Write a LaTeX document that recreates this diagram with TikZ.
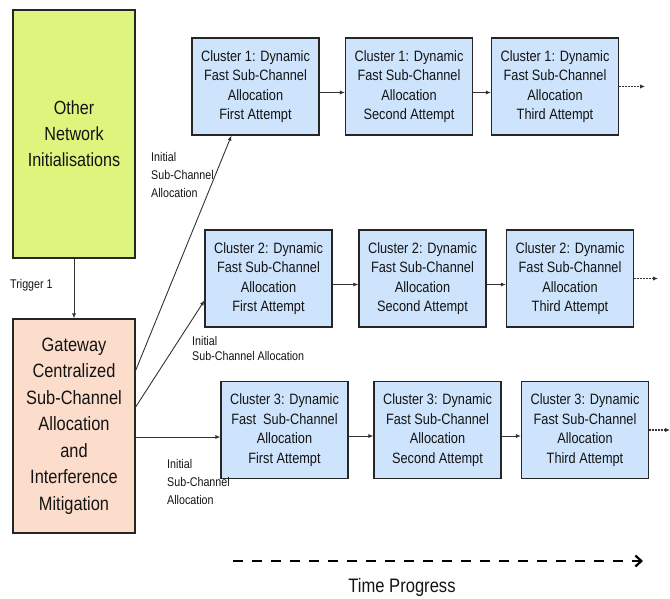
\documentclass[tikz,border=0pt]{standalone}
\usepackage{fontspec}
\setmainfont{Liberation Sans}[FakeStretch=0.85]
\usetikzlibrary{arrows.meta}
\definecolor{grn}{RGB}{221,244,125}
\definecolor{org}{RGB}{252,221,203}
\definecolor{blu}{RGB}{206,228,252}
\definecolor{txt}{RGB}{20,20,20}
\tikzset{
  bigbox/.style={draw=black!85, line width=1.1pt, minimum width=122pt, inner sep=0pt, align=center, text=txt},
  cbox/.style={draw=black!85, line width=1.1pt, fill=blu, minimum width=127pt, minimum height=97pt, inner sep=0pt, align=center, text=txt,
    font=\fontsize{15}{19.5}\selectfont},
  lbl/.style={inner sep=0pt, align=left, anchor=west, text=txt, font=\fontsize{12.6}{18}\selectfont},
  conn/.style={draw=black!80, line width=0.9pt, -{Latex[length=5pt,width=4pt]}},
  dots/.style={draw=black!80, line width=1.2pt, dash pattern=on 1.5pt off 1.5pt, -{Latex[length=5pt,width=4.5pt]}},
}
\begin{document}
\begin{tikzpicture}[x=1pt,y=-1pt]
\useasboundingbox (0,0) rectangle (670,598);
% left boxes
\node[bigbox, fill=grn, minimum height=248pt, font=\fontsize{19}{26}\selectfont] (gr) at (74,134) {Other\\Network\\Initialisations};
\node[bigbox, fill=org, minimum height=214pt, font=\fontsize{19.3}{26.5}\selectfont] (or) at (74,426) {Gateway\\Centralized\\Sub-Channel\\Allocation\\and\\Interference\\Mitigation};
\draw[conn] (gr.south) -- (or.north);
\node[lbl] (trig) at (10,285) {Trigger 1};
% cluster 1
\node[cbox] (c1a) at (255.5,86.5) {Cluster 1: Dynamic\\Fast Sub-Channel\\Allocation\\First Attempt};
\node[cbox] (c1b) at (409,86.5) {Cluster 1: Dynamic\\Fast Sub-Channel\\Allocation\\Second Attempt};
\node[cbox] (c1c) at (555,86.5) {Cluster 1: Dynamic\\Fast Sub-Channel\\Allocation\\Third Attempt};
% cluster 2
\node[cbox] (c2a) at (268.5,278.5) {Cluster 2: Dynamic\\Fast Sub-Channel\\Allocation\\First Attempt};
\node[cbox] (c2b) at (422.5,278.5) {Cluster 2: Dynamic\\Fast Sub-Channel\\Allocation\\Second Attempt};
\node[cbox] (c2c) at (570,278.5) {Cluster 2: Dynamic\\Fast Sub-Channel\\Allocation\\Third Attempt};
% cluster 3
\node[cbox] (c3a) at (284.5,430) {Cluster 3: Dynamic\\Fast\ \ Sub-Channel\\Allocation\\First Attempt};
\node[cbox] (c3b) at (437.5,430) {Cluster 3: Dynamic\\Fast Sub-Channel\\Allocation\\Second Attempt};
\node[cbox] (c3c) at (585,430) {Cluster 3: Dynamic\\Fast Sub-Channel\\Allocation\\Third Attempt};
% chain arrows
\foreach \r in {1,2,3}{
  \draw[conn] ([yshift=-6pt]c\r a.east) -- ([yshift=-6pt]c\r b.west);
  \draw[conn] ([yshift=-6pt]c\r b.east) -- ([yshift=-6pt]c\r c.west);
}
\coordinate (e1) at (645,86.5);
\coordinate (e2) at (658,278.5);
\coordinate (e3) at (670,430);
\draw[dots] (c1c.east) -- (e1);
\draw[dots] (c2c.east) -- (e2);
\draw[dots] (c3c.east) -- (e3);
% initial allocation arrows
\coordinate (s1) at (135,372);
\coordinate (s2) at (135,408);
\coordinate (s3) at (135,437);
\draw[conn] (s1) -- ([xshift=40pt]c1a.south west);
\draw[conn] (s2) -- ([yshift=-22pt]c2a.west);
\draw[conn] (s3) -- (s3 -| c3a.west);
\node[lbl] (l1) at (151,175) {Initial\\Sub-Channel\\Allocation};
\node[lbl, font=\fontsize{12.6}{15}\selectfont] (l2) at (192,348) {Initial\\Sub-Channel Allocation};
\node[lbl] (l3) at (167,482) {Initial\\Sub-Channel\\Allocation};
% time progress
\coordinate (t1) at (233,561);
\coordinate (t2) at (643,561);
\draw[line width=2.6pt, dash pattern=on 10pt off 9pt, -{Straight Barb[length=6pt,width=11pt,line width=2.2pt]}] (t1) -- (t2);
\node[inner sep=0pt, text=txt, font=\fontsize{19.5}{22}\selectfont] (tp) at (402,587) {Time Progress};
\end{tikzpicture}
\end{document}
